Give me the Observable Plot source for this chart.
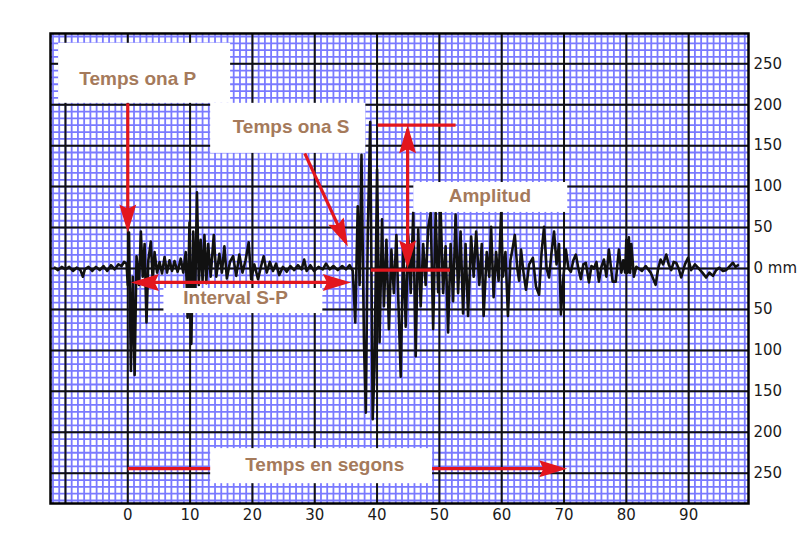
<!DOCTYPE html>
<html><head><meta charset="utf-8">
<script src="https://cdn.jsdelivr.net/npm/d3@7"></script>
<script src="https://cdn.jsdelivr.net/npm/@observablehq/plot@0.6"></script>
<style>body{margin:0;background:#fff}</style>
</head><body><div id="chart"></div>
<script>
// Axis ticks
const xTicks = [0, 10, 20, 30, 40, 50, 60, 70, 80, 90];
const yTicks = [-250, -200, -150, -100, -50, 0, 50, 100, 150, 200, 250];
const majorX = [-10, 0, 10, 20, 30, 40, 50, 60, 70, 80, 90];
const majorY = yTicks;
const minorX = d3.range(-12, 100, 1);
const minorY = d3.range(-34, 35).map(i => i * 50 / 6);

// Seismogram trace: [time (s), amplitude (mm)]
const trace = [
  [-11.7,1],[-11.2,-2],[-10.6,2],[-10.0,-1],[-9.4,2],[-8.8,-3],[-8.2,1],[-7.6,-2],[-7.2,-10],[-6.9,-1],
  [-6.3,2],[-5.7,-3],[-5.1,2],[-4.5,-2],[-3.9,3],[-3.3,-3],[-2.7,4],[-2.1,-1],[-1.5,5],[-1.0,3],[-0.6,8],[-0.2,6],
  [0.0,-20],[0.2,44],[0.5,-125],[0.8,-10],[1.1,-130],[1.4,15],[1.8,-20],[2.1,45],[2.4,-10],[2.7,30],[3.0,-66],
  [3.3,10],[3.7,33],[4.0,-15],[4.3,20],[4.7,-5],[5.1,8],[5.5,-6],[5.9,14],[6.3,-5],[6.7,10],[7.1,-3],[7.5,9],
  [8.0,-4],[8.5,12],[8.9,-5],[9.3,20],[9.6,-60],[9.9,56],[10.2,-92],[10.5,45],[10.8,-40],[11.1,93],[11.4,-20],
  [11.7,35],[12.0,-15],[12.3,41],[12.6,-18],[12.9,30],[13.3,-10],[13.8,41],[14.2,-10],[14.7,18],[15.1,-5],
  [15.5,27],[15.9,-12],[16.4,8],[16.9,15],[17.4,-9],[17.9,17],[18.4,-5],[18.9,10],[19.4,32],[19.8,-13],
  [20.3,5],[20.9,-13],[21.4,3],[21.8,15],[22.3,-5],[22.8,8],[23.3,-3],[23.8,6],[24.3,-8],[24.9,2],[25.5,-4],
  [26.1,3],[26.7,-2],[27.3,4],[27.9,-1],[28.3,11],[28.7,-3],[29.3,4],[29.9,-3],[30.6,2],[31.3,-1],[31.8,6],
  [32.4,-1],[33.0,3],[33.7,-2],[34.4,3],[35.0,-1],[35.6,4],[36.1,-3],
  [36.5,-66],[36.9,76],[37.2,-20],[37.5,139],[37.9,-90],[38.2,-176],[38.5,40],[38.9,179],[39.3,-184],
  [39.6,-120],[40.0,121],[40.4,-90],[40.8,60],[41.1,-46],[41.5,35],[41.9,-74],[42.3,23],[42.7,-30],[43.1,41],
  [43.5,-60],[43.8,-132],[44.2,30],[44.6,-71],[45.0,40],[45.4,-30],[45.8,68],[46.2,-107],[46.6,48],[47.0,-46],
  [47.4,30],[47.8,-20],[48.2,50],[48.6,68],[49.0,-74],[49.4,68],[49.8,-29],[50.2,72],[50.6,-30],[51.0,27],
  [51.4,-78],[51.8,30],[52.2,-40],[52.6,66],[53.0,-30],[53.4,45],[53.8,-55],[54.2,30],[54.6,-58],[55.1,39],
  [55.5,-10],[55.9,45],[56.4,-20],[56.8,30],[57.1,-58],[57.6,20],[58.0,-10],[58.3,51],[58.7,-35],[59.1,20],
  [59.5,-15],[59.9,68],[60.2,-10],[60.6,20],[61.0,-58],[61.4,10],[61.8,27],[62.1,41],[62.5,0],[62.8,-15],
  [63.1,23],[63.5,-5],[63.9,-26],[64.4,5],[65.0,13],[65.5,-22],[66.0,-32],[66.4,20],[66.8,51],[67.2,0],
  [67.6,-11],[68.0,20],[68.4,45],[68.8,5],[69.2,30],[69.5,-56],[69.9,-10],[70.3,23],[70.7,0],[71.1,-4],
  [71.5,10],[71.9,17],[72.3,0],[72.7,-13],[73.1,5],[73.5,7],[74.0,-17],[74.4,3],[74.8,0],[75.2,8],[75.6,-16],
  [76.0,2],[76.4,11],[76.8,-10],[77.2,23],[77.8,-16],[78.3,-16],[78.8,23],[79.2,-5],[79.5,10],[79.8,-5],
  [80.0,35],[80.2,-5],[80.4,38],[80.6,-5],[80.8,30],[81.2,-10],[81.6,2],[82.0,0],[82.5,-3],[83.1,3],[83.9,-5],
  [84.7,-20],[85.1,0],[85.5,11],[85.9,5],[86.4,17],[86.8,5],[87.2,-2],[87.6,8],[88.0,7],[88.4,0],[88.8,-11],
  [89.4,5],[89.9,13],[90.4,-2],[91.0,5],[91.5,1],[92.2,-5],[92.8,-11],[93.3,-5],[93.9,-9],[94.4,-2],[94.9,1],
  [95.5,-3],[96.0,-2],[96.6,3],[97.1,7],[97.5,2],[97.9,4]
];

// Annotation label boxes (data units)
const boxes = [
  {x1: -11.1, x2: 16.5, y1: 201.7, y2: 275},
  {x1: 13.3, x2: 38.2, y1: 140.6, y2: 201.7},
  {x1: 45.9, x2: 70.6, y1: 68.5, y2: 105},
  {x1: 5.8, x2: 31.3, y1: -55, y2: -24.4},
  {x1: 13.3, x2: 48.9, y1: -262.8, y2: -220}
];
const labelNames = ["Temps ona P", "Temps ona S", "Amplitud", "Interval S-P", "Temps en segons"];
const labelT = [1.6, 26.2, 58.1, 17.3, 31.6];
const labelV = [231, 172.4, 89, -36, -239.6];

// Red arrow shafts and lines
const redLines = [
  {x1: 0, y1: 201.7, x2: 0, y2: 50},          // P arrow
  {x1: 28.4, y1: 140.6, x2: 35.0, y2: 32},    // S arrow
  {x1: 1.5, y1: -17, x2: 34.8, y2: -17},      // Interval S-P
  {x1: 44.9, y1: 170, x2: 44.9, y2: 5},       // Amplitud
  {x1: 40.1, y1: 175, x2: 52.6, y2: 175},     // Amplitud top line
  {x1: 39.0, y1: -2, x2: 51.7, y2: -2},       // Amplitud bottom line
  {x1: 0, y1: -244.5, x2: 69, y2: -244.5}     // Temps en segons
];
// Arrow heads: tip position and direction (degrees clockwise from up)
const heads = [
  {t: 0, v: 44, rot: 180},
  {t: 35.3, v: 26.9, rot: 155},
  {t: 0.5, v: -17, rot: 270},
  {t: 35.8, v: -17, rot: 90},
  {t: 44.9, v: 175, rot: 0},
  {t: 44.9, v: 0, rot: 180},
  {t: 70.5, v: -244.5, rot: 90}
];

const red = "#e3161e";
const arrowHead = {
  draw(ctx, size) {
    const r = Math.sqrt(size / Math.PI);
    const L = 3.5 * r, w = 1.06 * r;
    ctx.moveTo(0, 0);
    ctx.lineTo(w, L);
    ctx.lineTo(0, 0.85 * L);
    ctx.lineTo(-w, L);
    ctx.closePath();
  }
};

const traceData = trace.map(([t, v]) => ({t, v}));
const labels = labelNames.map((text, i) => ({text, t: labelT[i], v: labelV[i]}));

const chart = Plot.plot({
  width: 812,
  height: 534,
  marginLeft: 50,
  marginRight: 64,
  marginTop: 33,
  marginBottom: 31,
  style: {fontFamily: "DejaVu Sans", fontSize: "15px", color: "#1a1a1a", background: "#fff"},
  x: {domain: [-12.4, 99.6], label: null},
  y: {domain: [-287, 287], label: null},
  marks: [
    Plot.ruleX(minorX, {stroke: "#7a7aff", strokeWidth: 1.8}),
    Plot.ruleY(minorY, {stroke: "#7a7aff", strokeWidth: 1.8}),
    Plot.ruleX(majorX, {stroke: "#111", strokeWidth: 2}),
    Plot.ruleY(majorY, {stroke: "#111", strokeWidth: 2}),
    Plot.line(traceData, {x: "t", y: "v", stroke: "#111", strokeWidth: 2.6}),
    Plot.link(redLines, {x1: "x1", y1: "y1", x2: "x2", y2: "y2", stroke: red, strokeWidth: 3.2}),
    Plot.rect(boxes, {x1: "x1", x2: "x2", y1: "y1", y2: "y2", fill: "#fff"}),
    Plot.dot(heads, {x: "t", y: "v", r: 8, symbol: arrowHead, fill: red, rotate: "rot"}),
    Plot.text(labels, {x: "t", y: "v", text: "text", fill: "#a57a5b", fontSize: 19, fontWeight: "bold", fontFamily: "Liberation Sans"}),
    Plot.frame({stroke: "#000", strokeWidth: 2.5}),
    Plot.axisX({ticks: xTicks, tickSize: 0, tickPadding: 6, anchor: "bottom"}),
    Plot.axisY({ticks: yTicks, tickSize: 0, tickPadding: 5, anchor: "right", tickFormat: d => d === 0 ? "0 mm" : String(Math.abs(d))})
  ]
});
document.getElementById("chart").appendChild(chart);
</script>
</body></html>
